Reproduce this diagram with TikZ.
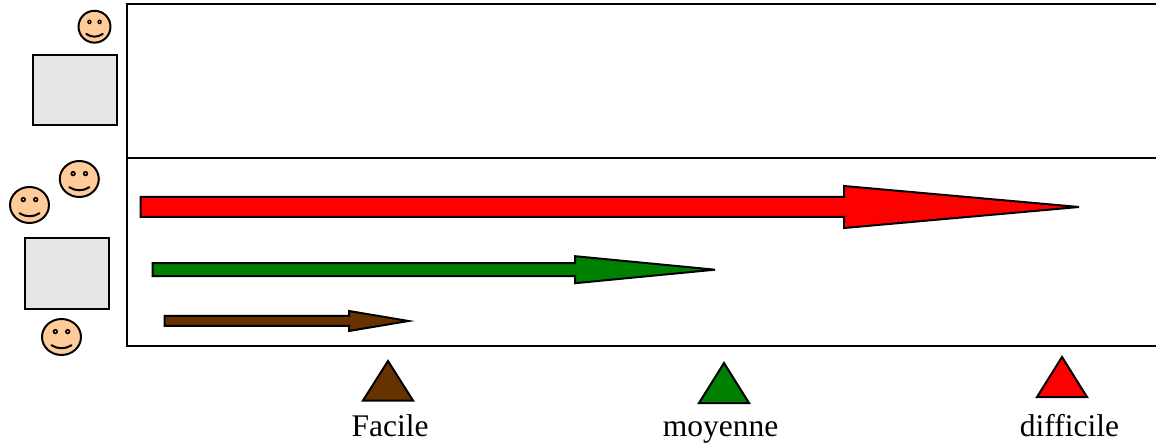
\documentclass[tikz,border=0pt]{standalone}
\usepackage{fontspec}
\setmainfont[Ligatures=NoCommon]{Liberation Serif}
\definecolor{skin}{RGB}{255,204,153}
\definecolor{tablegray}{RGB}{229,229,229}
\definecolor{brownc}{RGB}{102,51,0}
\definecolor{greenc}{RGB}{0,128,0}
\definecolor{redc}{RGB}{255,0,0}
\tikzset{
  outline/.style={draw=black,line width=2pt,line join=miter},
  tablebox/.style={outline,fill=tablegray},
  label/.style={font=\fontsize{31.5pt}{33pt}\selectfont,inner sep=0pt,anchor=base},
  pics/smiley/.style={code={
    \draw[outline,fill=skin] (0,0) ellipse[x radius=#1*19.5,y radius=#1*18];
    \fill[black] (-#1*6.2,-#1*5.4) circle[radius=#1*2.7];
    \fill[skin] (-#1*6.2,-#1*5.4) circle[radius=#1*0.9];
    \fill[black] (#1*6.2,-#1*5.4) circle[radius=#1*2.7];
    \fill[skin] (#1*6.2,-#1*5.4) circle[radius=#1*0.9];
    \draw[line width=2pt,line cap=round] (-#1*10,#1*8.2) .. controls (-#1*4,#1*12.3) and (#1*4,#1*12.3) .. (#1*10,#1*8.2);
  }}
}
\newcommand{\blockarrow}[7]{% fill, xtail, ymid, half shaft, xbase, half head, xtip
  \draw[outline,fill=#1] (#2,#3-#4) -- (#5,#3-#4) -- (#5,#3-#6) -- (#7,#3) -- (#5,#3+#6) -- (#5,#3+#4) -- (#2,#3+#4) -- cycle;
}
\begin{document}
\begin{tikzpicture}[x=1pt,y=-1pt]
\useasboundingbox (0,0) rectangle (1156,443);
\fill[white] (0,0) rectangle (1156,443);
% frame
\coordinate (tl) at (126.5,4);
\coordinate (tr) at (1156,4);
\coordinate (ml) at (126.5,158.5);
\coordinate (mr) at (1156,158.5);
\coordinate (bl) at (126.5,346);
\coordinate (br) at (1156,346);
\draw[outline] (tr) -- (tl) -- (bl) -- (br);
\draw[outline] (ml) -- (mr);
% tables
\draw[tablebox] (32.5,55.5) rectangle (116.5,125.5);
\draw[tablebox] (24.5,238.5) rectangle (108.5,309);
% faces
\pic[yscale=1.08] at (94.5,26.7) {smiley=0.82};
\pic at (79.3,179) {smiley=1};
\pic at (29.5,205) {smiley=1};
\pic at (61.5,337) {smiley=1};
% arrows
\blockarrow{redc}{140.5}{207}{10}{844}{21}{1079}
\blockarrow{greenc}{152.5}{269.7}{6.5}{575}{13.5}{715}
\blockarrow{brownc}{164.5}{321}{5}{349}{10}{408.5}
% triangles
\draw[outline,fill=brownc] (388,361) -- (413,400.5) -- (363,400.5) -- cycle;
\draw[outline,fill=greenc] (724,363) -- (749,403) -- (699,403) -- cycle;
\draw[outline,fill=redc] (1062,357) -- (1087,397) -- (1037,397) -- cycle;
% labels
\node[label] (facile) at (390,436) {Facile};
\node[label] (moyenne) at (720.5,436) {moyenne};
\node[label] (difficile) at (1069.5,436) {difficile};
\end{tikzpicture}
\end{document}
